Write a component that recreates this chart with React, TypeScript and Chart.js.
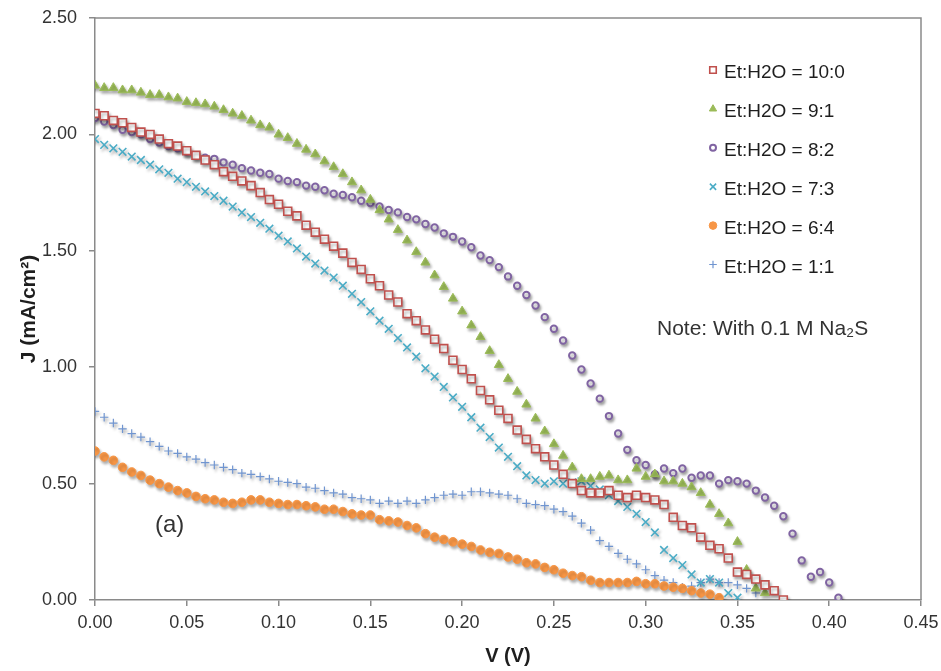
import React, { useEffect, useRef } from 'react';
import { Chart, registerables } from 'chart.js';
import { drawPoint } from 'chart.js/helpers';

Chart.register(...registerables);

const V = [0, 0.005, 0.01, 0.015, 0.02, 0.025, 0.03, 0.035, 0.04, 0.045, 0.05, 0.055, 0.06, 0.065, 0.07, 0.075, 0.08, 0.085, 0.09, 0.095, 0.1, 0.105, 0.11, 0.115, 0.12, 0.125, 0.13, 0.135, 0.14, 0.145, 0.15, 0.155, 0.16, 0.165, 0.17, 0.175, 0.18, 0.185, 0.19, 0.195, 0.2, 0.205, 0.21, 0.215, 0.22, 0.225, 0.23, 0.235, 0.24, 0.245, 0.25, 0.255, 0.26, 0.265, 0.27, 0.275, 0.28, 0.285, 0.29, 0.295, 0.3, 0.305, 0.31, 0.315, 0.32, 0.325, 0.33, 0.335, 0.34, 0.345, 0.35, 0.355, 0.36, 0.365, 0.37, 0.375, 0.38, 0.385, 0.39, 0.395, 0.4, 0.405];

const J_10_0 = [2.09, 2.08, 2.06, 2.05, 2.03, 2.01, 2.00, 1.98, 1.96, 1.95, 1.93, 1.91, 1.89, 1.87, 1.84, 1.82, 1.80, 1.78, 1.75, 1.72, 1.70, 1.67, 1.65, 1.61, 1.58, 1.55, 1.52, 1.49, 1.45, 1.42, 1.38, 1.35, 1.31, 1.28, 1.23, 1.20, 1.16, 1.12, 1.08, 1.03, 0.99, 0.95, 0.90, 0.86,
  0.815, 0.78, 0.73, 0.69, 0.65, 0.615, 0.58, 0.54, 0.50, 0.47, 0.46, 0.46, 0.47, 0.45, 0.44, 0.45, 0.44, 0.43,
  0.41, 0.355, 0.32, 0.31, 0.27, 0.235, 0.22, 0.18, 0.12, 0.11, 0.09, 0.065, 0.04, 0.00];

const J_9_1 = [2.21, 2.20, 2.20, 2.19, 2.19, 2.18, 2.17, 2.17, 2.16, 2.155, 2.14, 2.135, 2.13, 2.12, 2.105, 2.09, 2.08, 2.06, 2.04, 2.03, 2.00, 1.985, 1.96, 1.935, 1.915, 1.885, 1.86, 1.83, 1.795, 1.76, 1.72, 1.675,
  1.635, 1.59, 1.545, 1.495, 1.45, 1.395, 1.345, 1.295, 1.24, 1.18, 1.13, 1.07, 1.01, 0.95, 0.895,
  0.84, 0.78, 0.725, 0.67, 0.62, 0.57, 0.52, 0.52, 0.53, 0.535, 0.515, 0.515, 0.565, 0.53, 0.54,
  0.51, 0.51, 0.50, 0.485, 0.46, 0.41, 0.37, 0.33, 0.25, 0.13, 0.05, 0.03];

const J_8_2 = [2.07, 2.055, 2.04, 2.02, 2.01, 2.00, 1.98, 1.965, 1.95, 1.94, 1.925, 1.91, 1.90, 1.895, 1.88, 1.87, 1.855, 1.845, 1.835, 1.83, 1.81, 1.80, 1.795, 1.78, 1.775, 1.76, 1.745, 1.74, 1.73, 1.715, 1.705, 1.69,
  1.675, 1.665, 1.645, 1.635, 1.615, 1.60, 1.575, 1.56, 1.54, 1.515, 1.48, 1.46, 1.43, 1.39, 1.35, 1.31, 1.265, 1.215, 1.165, 1.115, 1.05, 0.99, 0.93, 0.865,
  0.79, 0.715, 0.645, 0.60, 0.58, 0.54, 0.565, 0.545, 0.565, 0.525, 0.535, 0.535, 0.50, 0.515, 0.51, 0.50, 0.47, 0.44, 0.405, 0.36, 0.285, 0.17, 0.10, 0.12, 0.075, 0.01];

const J_7_3 = [1.98, 1.955, 1.94, 1.925, 1.905, 1.89, 1.87, 1.85, 1.835, 1.81, 1.795, 1.775, 1.755, 1.735, 1.715, 1.69, 1.665, 1.645, 1.62, 1.595,
  1.565, 1.54, 1.51, 1.475, 1.445, 1.415, 1.385, 1.35, 1.315, 1.28, 1.24, 1.20, 1.165, 1.125, 1.085, 1.045, 0.995, 0.96, 0.915, 0.87,
  0.83, 0.785, 0.74, 0.70, 0.655, 0.615, 0.575, 0.535, 0.515, 0.50, 0.51, 0.50, 0.505, 0.51, 0.49, 0.475, 0.45, 0.425, 0.40, 0.37, 0.335, 0.29,
  0.215, 0.18, 0.15, 0.11, 0.075, 0.09, 0.075, 0.03, 0.01];

const J_6_4 = [0.64, 0.615, 0.60, 0.57, 0.55, 0.535, 0.515, 0.50, 0.485, 0.47, 0.46, 0.445, 0.435, 0.43, 0.42, 0.415, 0.42, 0.43, 0.43, 0.42, 0.415, 0.41, 0.41, 0.405, 0.40, 0.39, 0.39, 0.38, 0.37, 0.365, 0.365, 0.345,
  0.34, 0.335, 0.32, 0.31, 0.285, 0.27, 0.26, 0.25, 0.24, 0.23, 0.215, 0.205, 0.20, 0.185, 0.175, 0.16, 0.155, 0.14, 0.13, 0.115, 0.105, 0.10, 0.085, 0.075, 0.075, 0.075, 0.075, 0.08, 0.07, 0.07,
  0.06, 0.055, 0.05, 0.04, 0.03, 0.025, 0.01];

const J_1_1 = [0.81, 0.785, 0.76, 0.735, 0.715, 0.70, 0.68, 0.66, 0.64, 0.63, 0.615, 0.605, 0.59, 0.58, 0.57, 0.56, 0.545, 0.54, 0.53, 0.52, 0.51, 0.505, 0.50, 0.485, 0.48, 0.47, 0.46, 0.455, 0.44, 0.435, 0.43, 0.415,
  0.425, 0.415, 0.425, 0.415, 0.43, 0.44, 0.45, 0.455, 0.45, 0.465, 0.465, 0.46, 0.455, 0.45, 0.435, 0.415, 0.41, 0.405, 0.39, 0.38, 0.36, 0.33, 0.30, 0.255, 0.23, 0.20, 0.175, 0.155, 0.13, 0.105,
  0.085, 0.075, 0.055, 0.06, 0.075, 0.09, 0.075, 0.075, 0.065, 0.05, 0.03];

const LABELS = ['Et:H2O = 10:0', 'Et:H2O = 9:1', 'Et:H2O = 8:2', 'Et:H2O = 7:3', 'Et:H2O = 6:4', 'Et:H2O = 1:1'];
const NOTE = 'Note: With 0.1 M Na\u2082S';
const PANEL = '(a)';
const X_TITLE = 'V (V)';
const Y_TITLE = 'J (mA/cm\u00B2)';

const FONT = '"Liberation Sans", Arial, Helvetica, sans-serif';
const AXIS = '#8a8a8a';

export default function App() {
  const ref = useRef<HTMLCanvasElement>(null);

  useEffect(() => {
    if (!ref.current) return;
    const pts = (ys: number[]) => ys.map((y, i) => ({ x: V[i], y }));

    const styles = [
      { pointStyle: 'rect', radius: 5.6, borderColor: '#C0504D', backgroundColor: '#ffffff', borderWidth: 1.6, legendR: 4.6 },
      { pointStyle: 'triangle', radius: 5.2, borderColor: '#9BBB59', backgroundColor: '#9BBB59', borderWidth: 1, legendR: 4.2 },
      { pointStyle: 'circle', radius: 3.2, borderColor: '#8064A2', backgroundColor: '#ffffff', borderWidth: 2, legendR: 3 },
      { pointStyle: 'crossRot', radius: 5.4, borderColor: '#4BACC6', backgroundColor: '#4BACC6', borderWidth: 1.6, legendR: 4.4 },
      { pointStyle: 'circle', radius: 4.3, borderColor: '#F79646', backgroundColor: '#F79646', borderWidth: 1, legendR: 3.8 },
      { pointStyle: 'cross', radius: 4.2, borderColor: '#7095D0', backgroundColor: '#7095D0', borderWidth: 1.2, legendR: 3.8 },
    ];
    const series = [J_10_0, J_9_1, J_8_2, J_7_3, J_6_4, J_1_1];

    const datasets = series.map((s, i) => ({
      label: LABELS[i],
      data: pts(s),
      showLine: false,
      pointStyle: styles[i].pointStyle,
      pointRadius: styles[i].radius,
      pointBorderColor: styles[i].borderColor,
      pointBackgroundColor: styles[i].backgroundColor,
      pointBorderWidth: styles[i].borderWidth,
      borderColor: styles[i].borderColor,
      backgroundColor: styles[i].backgroundColor,
    }));

    const shadow = {
      id: 'shadow',
      beforeDatasetsDraw(c: any) {
        const ctx = c.ctx;
        ctx.save();
        ctx.shadowColor = 'rgba(0,0,0,0.32)';
        ctx.shadowBlur = 3;
        ctx.shadowOffsetX = 1.5;
        ctx.shadowOffsetY = 2.5;
      },
      afterDatasetsDraw(c: any) {
        c.ctx.restore();
      },
    };

    const extras = {
      id: 'extras',
      afterDraw(c: any) {
        const { ctx, chartArea: a } = c;
        ctx.save();
        ctx.strokeStyle = AXIS;
        ctx.lineWidth = 1.5;
        ctx.beginPath();
        ctx.moveTo(a.left, a.top);
        ctx.lineTo(a.right, a.top);
        ctx.lineTo(a.right, a.bottom);
        ctx.stroke();

        // legend
        const lx = 713;
        const ty = 73;
        const gap = 38.9;
        ctx.font = `19px ${FONT}`;
        ctx.textBaseline = 'middle';
        ctx.textAlign = 'left';
        LABELS.forEach((lab, i) => {
          const y = ty + i * gap;
          const st = styles[i];
          ctx.save();
          ctx.strokeStyle = st.borderColor;
          ctx.fillStyle = st.backgroundColor;
          ctx.lineWidth = st.borderWidth;
          drawPoint(ctx, { pointStyle: st.pointStyle as any, radius: st.legendR, rotation: 0, borderWidth: st.borderWidth }, lx, y - 3);
          ctx.restore();
          ctx.fillStyle = '#1e1e1e';
          ctx.fillText(lab, 724, y);
        });

        ctx.fillStyle = '#333333';
        ctx.font = `21px ${FONT}`;
        ctx.fillText(NOTE, 657, 329);
        ctx.font = `24px ${FONT}`;
        ctx.fillText(PANEL, 155, 525);
        ctx.restore();
      },
    };

    const chart = new Chart(ref.current, {
      type: 'scatter',
      data: { datasets: datasets as any },
      options: {
        responsive: false,
        animation: false,
        layout: { padding: { top: 18, right: 20, left: 0, bottom: 0 } },
        plugins: { legend: { display: false }, tooltip: { enabled: false } },
        scales: {
          x: {
            type: 'linear',
            min: 0,
            max: 0.45,
            afterFit: (s: any) => { s.height = 71; s.paddingLeft = 0; s.paddingRight = 0; },
            ticks: {
              stepSize: 0.05,
              callback: (v: any) => Number(v).toFixed(2),
              font: { family: FONT, size: 18 },
              color: '#333333',
              padding: 6,
              maxRotation: 0,
              autoSkip: false,
            },
            grid: { display: true, drawOnChartArea: false, drawTicks: true, tickLength: 6, color: AXIS, lineWidth: 1.5 },
            border: { display: true, color: AXIS, width: 1.5 },
            title: { display: true, text: X_TITLE, font: { family: FONT, size: 20, weight: 'bold' }, color: '#1e1e1e', padding: { top: 0, bottom: 3 } },
          },
          y: {
            type: 'linear',
            min: 0,
            max: 2.5,
            afterFit: (s: any) => { s.width = 95; s.paddingTop = 0; s.paddingBottom = 0; },
            ticks: {
              stepSize: 0.5,
              callback: (v: any) => Number(v).toFixed(2),
              font: { family: FONT, size: 18 },
              color: '#333333',
              padding: 12,
            },
            grid: { display: true, drawOnChartArea: false, drawTicks: true, tickLength: 6, color: AXIS, lineWidth: 1.5 },
            border: { display: true, color: AXIS, width: 1.5 },
            title: { display: true, text: Y_TITLE, font: { family: FONT, size: 21, weight: 'bold' }, color: '#1e1e1e', padding: { top: 17, bottom: 0 } },
          },
        },
      },
      plugins: [shadow, extras],
    });
    return () => chart.destroy();
  }, []);

  return (
    <div style={{ position: 'fixed', left: 0, top: 0, width: 941, height: 671, background: '#ffffff' }}>
      <canvas ref={ref} width={941} height={671} style={{ display: 'block' }} />
    </div>
  );
}
